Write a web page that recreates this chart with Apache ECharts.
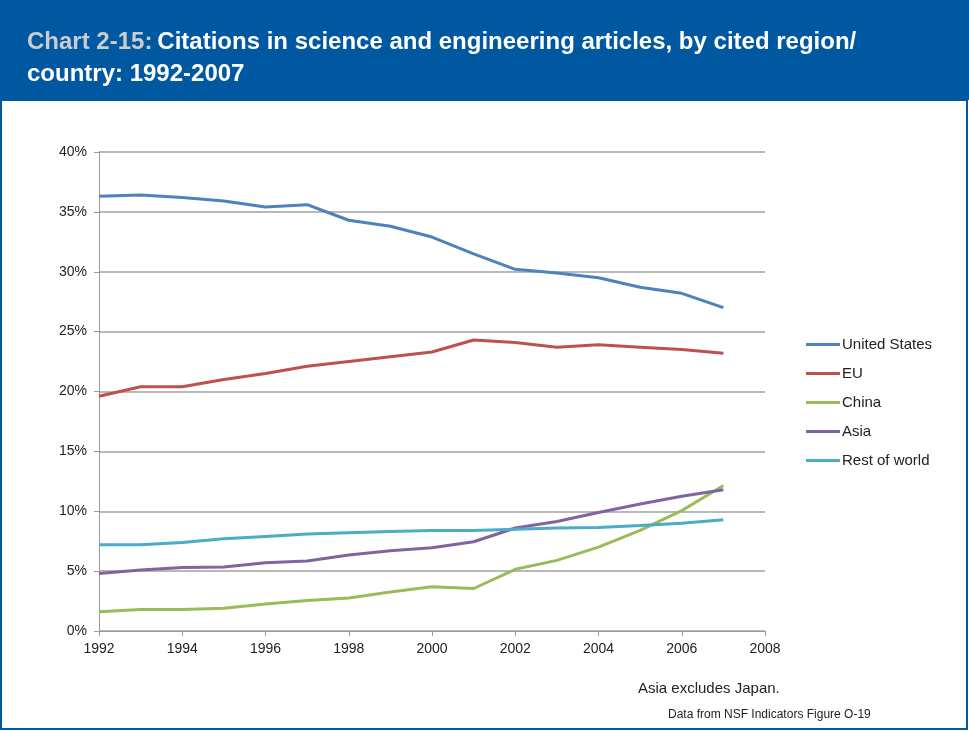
<!DOCTYPE html>
<html><head><meta charset="utf-8">
<script src="https://cdn.jsdelivr.net/npm/echarts@6/dist/echarts.min.js"></script>
<style>html,body{margin:0;padding:0;background:#fff}#c{width:969px;height:732px}</style>
</head><body><div id="c"></div>
<script>
const years = [1992,1993,1994,1995,1996,1997,1998,1999,2000,2001,2002,2003,2004,2005,2006,2007];
const unitedStates = [36.3,36.4,36.2,35.9,35.4,35.6,34.3,33.8,32.9,31.5,30.2,29.9,29.5,28.7,28.2,27.0];
const eu = [19.6,20.4,20.4,21.0,21.5,22.1,22.5,22.9,23.3,24.3,24.1,23.7,23.9,23.7,23.5,23.2];
const china = [1.6,1.8,1.8,1.9,2.25,2.55,2.75,3.25,3.7,3.55,5.15,5.9,7.0,8.4,10.05,12.15];
const asia = [4.8,5.1,5.3,5.35,5.7,5.85,6.35,6.7,6.95,7.45,8.6,9.15,9.9,10.6,11.25,11.8];
const restOfWorld = [7.2,7.2,7.4,7.7,7.9,8.1,8.2,8.3,8.4,8.4,8.5,8.6,8.65,8.8,9.0,9.3];
const seriesNames = ['United States','EU','China','Asia','Rest of world'];
const colors = ['#4f81bd','#c0504d','#9bbb59','#8064a2','#4bacc6'];
const values = [unitedStates, eu, china, asia, restOfWorld];

const chart = echarts.init(document.getElementById('c'), null, {renderer:'canvas'});
const font = 'Liberation Sans, Arial, sans-serif';
chart.setOption({
  animation:false,
  backgroundColor:'#fff',
  graphic:[
    {type:'rect', shape:{x:0,y:0,width:969,height:100}, style:{fill:'#0059a0'}, z:0},
    {type:'rect', shape:{x:1,y:100,width:966,height:629}, style:{fill:'none',stroke:'#0059a0',lineWidth:2}, z:0},
    {type:'text', left:638, top:681, style:{text:'Asia excludes Japan.', font:'15px '+font, fill:'#222'}},
    {type:'text', left:668, top:709, style:{text:'Data from NSF Indicators Figure O-19', font:'12px '+font, fill:'#222'}}
  ],
  title:{
    left:22, top:21,
    text:'{a|Chart 2-15:} {b|Citations in science and engineering articles, by cited region/}\n{b|country: 1992-2007}',
    textStyle:{
      rich:{
        a:{fontFamily:font, fontWeight:'bold', fontSize:24, color:'#c9ccd2', lineHeight:32},
        b:{fontFamily:font, fontWeight:'bold', fontSize:24, color:'#ffffff', lineHeight:32}
      }
    }
  },
  legend:{
    orient:'vertical', left:801, top:332, itemWidth:34, itemHeight:10, itemGap:14,
    data:seriesNames.map((n,i)=>({name:n, icon:'path://M0,4L34,4L34,7L0,7Z', itemStyle:{color:colors[i]}})),
    textStyle:{fontFamily:font, fontSize:15, color:'#222', padding:[0,0,0,-3]}
  },
  grid:{left:99, right:204, top:152, bottom:101, containLabel:false},
  xAxis:{
    type:'value', min:1992, max:2008, interval:2,
    axisLine:{lineStyle:{color:'#9a9a9a'}},
    axisTick:{show:true, length:5, lineStyle:{color:'#9a9a9a'}},
    splitLine:{show:false},
    axisLabel:{formatter:v=>String(v), fontFamily:font, fontSize:14, color:'#222', margin:11}
  },
  yAxis:{
    type:'value', min:0, max:40, interval:5,
    axisLine:{show:true, lineStyle:{color:'#9a9a9a'}},
    axisTick:{show:true, length:5, lineStyle:{color:'#9a9a9a'}},
    splitLine:{lineStyle:{color:'#a0a0a0', width:1.5}},
    axisLabel:{formatter:'{value}%', fontFamily:font, fontSize:14, color:'#222', margin:12}
  },
  series: seriesNames.map((n,i)=>({
    name:n, type:'line', symbol:'none', smooth:false,
    data: years.map((y,j)=>[y, values[i][j]]),
    lineStyle:{color:colors[i], width:3}, itemStyle:{color:colors[i]}
  }))
});
</script></body></html>
